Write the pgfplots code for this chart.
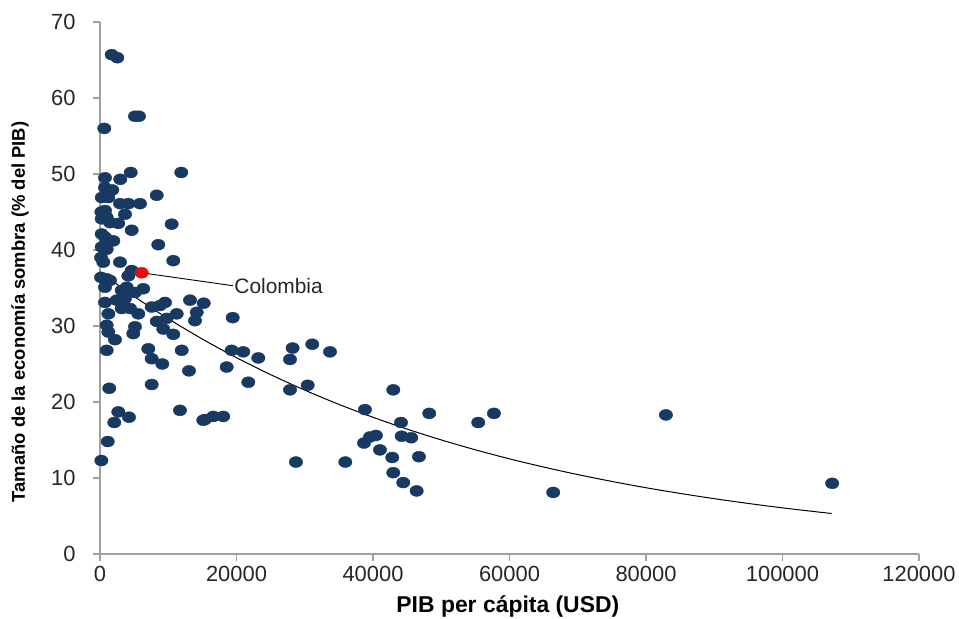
\documentclass[border=0pt]{standalone}
\usepackage{fontspec}
\setmainfont{Liberation Sans}
\usepackage{pgfplots}
\usepackage{pgfplotstable}
\pgfplotsset{compat=1.18}
\definecolor{dotblue}{RGB}{24,57,97}
\definecolor{axgray}{RGB}{160,160,160}
\definecolor{colred}{RGB}{226,16,16}

\pgfplotstableread{
x y
1714 65.7
2534 65.3
630 56.0
5130 57.6
5710 57.6
730 49.5
2970 49.3
4500 50.2
11910 50.2
730 48.2
1800 47.9
8310 47.2
250 46.9
1220 46.9
2930 46.1
4150 46.1
5860 46.1
200 45.0
730 45.2
3660 44.7
250 44.1
980 44.3
1465 43.6
2680 43.5
4640 42.6
10500 43.4
250 42.1
730 41.7
1950 41.2
8540 40.7
250 40.4
980 40.1
150 39.0
480 38.4
2930 38.4
10740 38.6
4640 37.3
4150 36.6
150 36.4
980 36.2
1465 36.0
730 35.1
3180 34.7
3910 35.1
5130 34.4
6340 34.9
730 33.1
2450 33.4
3660 33.6
4400 32.3
3180 32.3
5610 31.6
7570 32.5
9520 33.1
8790 32.7
13190 33.4
15200 33.0
1220 31.6
8310 30.6
9770 31.0
11240 31.6
14170 31.8
13920 30.7
980 30.1
5130 29.9
4880 29.0
9270 29.6
10740 28.9
1220 29.2
2200 28.2
980 26.8
7080 27.0
11970 26.8
7570 25.7
9130 25.0
13040 24.1
1360 21.8
7570 22.3
2680 18.7
4250 18.0
2100 17.3
11720 18.9
15130 17.6
1130 14.8
200 12.3
19440 31.1
19290 26.8
20990 26.6
23190 25.8
18560 24.6
21730 22.6
15380 17.7
16600 18.1
18060 18.1
28220 27.1
31100 27.6
33700 26.6
27840 25.6
27840 21.6
30430 22.2
42970 21.6
38820 19.0
48240 18.5
55420 17.3
57720 18.5
44100 17.3
39560 15.4
40430 15.6
38680 14.6
44200 15.5
45600 15.3
41020 13.7
42820 12.7
46730 12.8
28710 12.1
35940 12.1
42970 10.7
44430 9.4
46400 8.3
66410 8.1
82920 18.3
107280 9.3
}\countries

\pgfplotstableread{
x y
0 37.10
5000 33.89
10000 30.96
15000 28.28
20000 25.83
25000 23.60
30000 21.56
35000 19.69
40000 17.99
45000 16.43
50000 15.01
55000 13.71
60000 12.52
65000 11.44
70000 10.45
75000 9.55
80000 8.72
85000 7.97
90000 7.28
95000 6.65
100000 6.07
105000 5.55
107200 5.33
}\trend

\begin{document}
\begin{tikzpicture}
\useasboundingbox (-100bp,-65bp) rectangle (859bp,554bp);
\begin{axis}[
  at={(0,0)}, anchor=south west,
  scale only axis,
  width=819bp, height=532bp,
  xmin=0, xmax=120000, ymin=0, ymax=70,
  xtick={0,20000,40000,60000,80000,100000,120000},
  ytick={0,10,20,30,40,50,60,70},
  scaled x ticks=false,
  xticklabel={\pgfmathprintnumber[fixed,precision=0,1000 sep={},assume math mode=true]{\tick}},
  yticklabel={\pgfmathprintnumber[fixed,precision=0,assume math mode=true]{\tick}},
  axis x line*=bottom, axis y line*=left,
  axis line style={draw=axgray, line width=1.4bp},
  tick style={draw=axgray, line width=1.4bp},
  tick align=outside,
  major tick length=7bp,
  ticklabel style={font=\fontsize{22}{26}\selectfont, text=black!85},
  xticklabel style={yshift=-2bp},
  yticklabel style={xshift=-14bp},
  xlabel={\textbf{PIB per cápita (USD)}},
  ylabel={\textbf{Tamaño de la economía sombra (\% del PIB)}},
  every axis x label/.style={at={(axis description cs:0.498,-0.0977)}, anchor=center, font=\fontsize{23}{27}\selectfont},
  every axis y label/.style={at={(axis description cs:-0.0977,0.455)}, anchor=center, rotate=90, font=\fontsize{18.5}{22}\selectfont},
  clip=false,
]
\addplot[only marks, mark=*, mark size=5.5bp, mark options={draw=dotblue, fill=dotblue, xscale=1.22}] table[x=x,y=y] {\countries};
\addplot[black, line width=1bp, smooth] table[x=x,y=y] {\trend};
\draw[black, line width=0.9bp] (axis cs:6110,37.0) -- (axis cs:19480,35.3) node[right, inner sep=1bp, font=\fontsize{21}{25}\selectfont, text=black!85] {Colombia};
\addplot[only marks, mark=*, mark size=5.5bp, mark options={draw=colred, fill=colred, xscale=1.22}] coordinates {(6110,37.0)};
\end{axis}
\end{tikzpicture}
\end{document}
